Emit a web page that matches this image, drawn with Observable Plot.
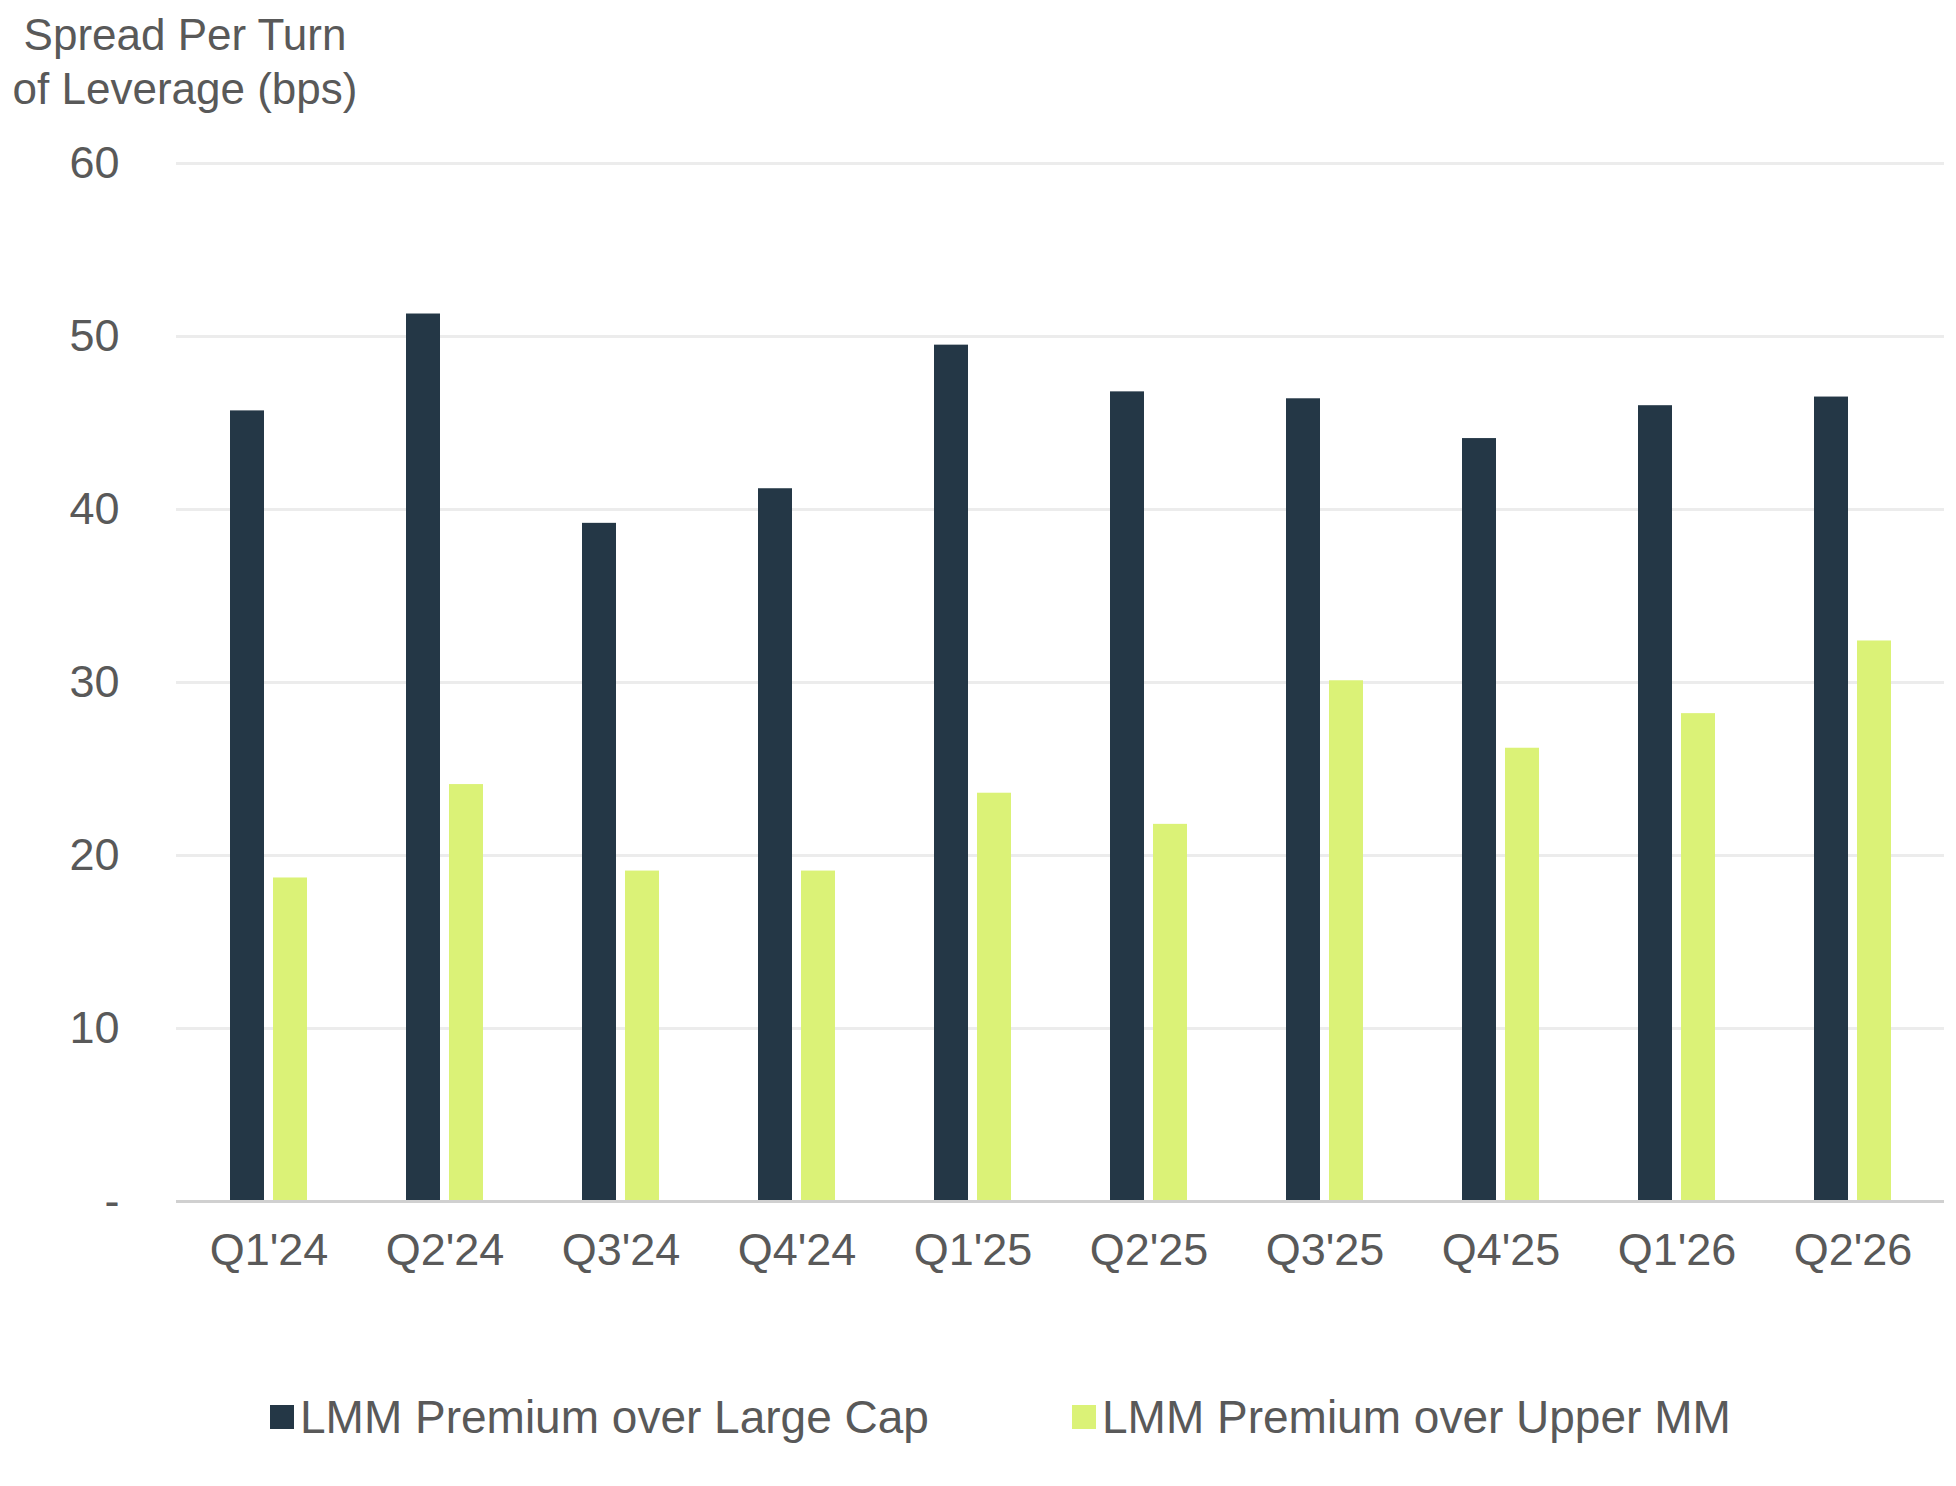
<!DOCTYPE html>
<html><head><meta charset="utf-8">
<script src="https://cdn.jsdelivr.net/npm/d3@7"></script>
<script src="https://cdn.jsdelivr.net/npm/@observablehq/plot@0.6"></script>
<style>
body{margin:0;background:#fff;font-family:"Liberation Sans",Arial,sans-serif;color:#595959}
#wrap{position:relative;width:1956px;height:1486px}
#title{position:absolute;left:0;top:8px;width:370px;text-align:center;font-size:44px;line-height:54px;white-space:nowrap}
#chart{position:absolute;left:0;top:0}
#legend{position:absolute;top:1390px;left:0;width:1956px;font-size:46px}
.li{position:absolute;display:flex;align-items:center}
.sw{width:24px;height:24px;margin-right:6px}
</style></head><body>
<div id="wrap">
<div id="chart"></div>
<div id="title">Spread Per Turn<br>of Leverage (bps)</div>
<div id="legend"></div>
</div>
<script>
const quarters = ["Q1'24","Q2'24","Q3'24","Q4'24","Q1'25","Q2'25","Q3'25","Q4'25","Q1'26","Q2'26"];
const largeCap = [45.7,51.3,39.2,41.2,49.5,46.8,46.4,44.1,46.0,46.5];
const upperMM = [18.7,24.1,19.1,19.1,23.6,21.8,30.1,26.2,28.2,32.4];
const seriesNames = ["LMM Premium over Large Cap","LMM Premium over Upper MM"];
const colors = ["#243746","#dbf277"];
const yTicks = [0,10,20,30,40,50,60];

const d1 = quarters.map((q,i)=>({q, v:largeCap[i]}));
const d2 = quarters.map((q,i)=>({q, v:upperMM[i]}));

const chart = Plot.plot({
  width:1956, height:1300,
  marginLeft:176, marginRight:12, marginTop:163, marginBottom:99,
  style:{fontFamily:"Liberation Sans, Arial, sans-serif", fontSize:"45px", color:"#595959", background:"transparent"},
  x:{domain:quarters, paddingInner:0.565, paddingOuter:0.2825, label:null, tickSize:0, tickPadding:32},
  y:{domain:[0,60], label:null, ticks:yTicks, tickSize:0, tickPadding:57, tickFormat:d=>d===0?"-":d},
  marks:[
    Plot.ruleY(yTicks.filter(d=>d>0),{stroke:"#ececec",strokeWidth:3}),
    Plot.barY(d1,{x:"q",y:"v",fill:colors[0],insetRight:43}),
    Plot.barY(d2,{x:"q",y:"v",fill:colors[1],insetLeft:43}),
    Plot.ruleY([0],{stroke:"#d0d0d0",strokeWidth:3})
  ]
});
document.getElementById("chart").appendChild(chart);

const lg = document.getElementById("legend");
const pos=[270,1072];
seriesNames.forEach((n,i)=>{
  const d=document.createElement("div");d.className="li";d.style.left=pos[i]+"px";
  d.innerHTML=`<span class="sw" style="background:${colors[i]}"></span><span>${n}</span>`;
  lg.appendChild(d);
});
</script>
</body></html>
